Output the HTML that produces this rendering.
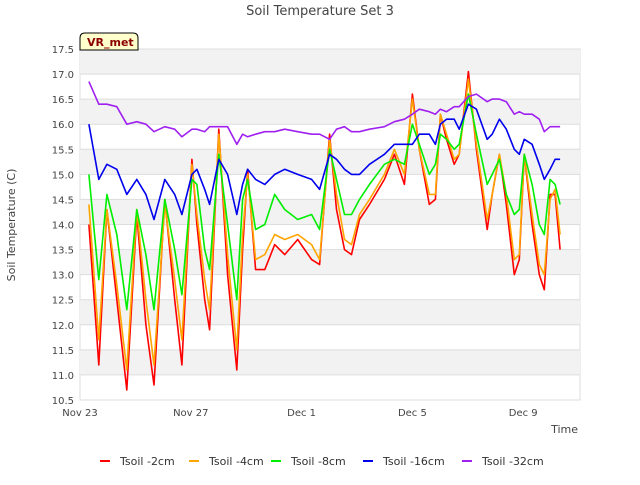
<!DOCTYPE html>
<html><head><meta charset="utf-8"><style>
body{margin:0;background:#fff;font-family:"Liberation Sans",sans-serif}
svg text{font-family:"DejaVu Sans","Liberation Sans",sans-serif}
</style></head><body>
<svg id="chart" width="640" height="480">
<rect width="640" height="480" fill="#fff"/>
<g id="bands"></g><g id="grid"></g>
<text x="320" y="15" text-anchor="middle" font-size="13" fill="#444">Soil Temperature Set 3</text>
<text x="15" y="225" text-anchor="middle" font-size="11" fill="#444" transform="rotate(-90 15 225)">Soil Temperature (C)</text>
<text x="578" y="433" text-anchor="end" font-size="11" fill="#444">Time</text>
<g id="yticks"></g><g id="xticks"></g><g id="series"></g>
<g>
<path d="M80,50 L80,38 Q80,33 85,33 L133,33 Q138,33 138,38 L138,50 Z" fill="#ffffcc" stroke="#000" stroke-width="1"/>
<text x="87" y="46" font-size="11" font-weight="bold" fill="#8b0000">VR_met</text></g>
<g id="legend"></g>
</svg>
<script>
const days=[0.32,0.68,0.97,1.33,1.69,2.05,2.38,2.67,3.06,3.42,3.68,4.04,4.22,4.50,4.68,5.01,5.33,5.66,5.87,6.05,6.34,6.67,7.03,7.39,7.86,8.36,8.65,9.01,9.26,9.55,9.80,10.09,10.45,10.99,11.35,11.71,12.00,12.25,12.61,12.83,13.01,13.23,13.51,13.69,14.02,14.31,14.70,14.88,15.14,15.39,15.68,15.86,16.04,16.32,16.58,16.76,16.97,17.15,17.33];
const tsoil2=[14.0,11.2,14.3,12.5,10.7,14.2,12.0,10.8,14.5,12.5,11.2,15.3,14.0,12.5,11.9,15.9,13.0,11.1,13.5,15.1,13.1,13.1,13.6,13.4,13.7,13.3,13.2,15.8,14.3,13.5,13.4,14.1,14.4,14.9,15.4,14.8,16.6,15.5,14.4,14.5,16.2,15.7,15.2,15.4,17.05,15.5,13.9,14.6,15.4,14.4,13.0,13.3,15.4,14.0,13.0,12.7,14.6,14.6,13.5];
const tsoil4=[14.4,11.7,14.3,12.8,11.1,14.3,12.5,11.2,14.4,12.9,11.7,15.2,14.2,12.9,12.3,15.8,13.4,11.5,13.8,15.0,13.3,13.4,13.8,13.7,13.8,13.6,13.3,15.7,14.6,13.7,13.6,14.2,14.5,15.0,15.5,15.0,16.5,15.5,14.6,14.6,16.2,15.8,15.3,15.4,16.9,15.6,14.1,14.6,15.4,14.6,13.3,13.4,15.4,14.2,13.2,13.0,14.5,14.7,13.8];
const tsoil8=[15.0,12.9,14.6,13.8,12.3,14.3,13.4,12.3,14.5,13.5,12.6,14.9,14.8,13.5,13.1,15.4,14.0,12.5,14.5,14.9,13.9,14.0,14.6,14.3,14.1,14.2,13.9,15.5,14.9,14.2,14.2,14.5,14.8,15.2,15.3,15.2,16.0,15.6,15.0,15.2,15.8,15.7,15.5,15.6,16.6,15.8,14.8,15.0,15.3,14.6,14.2,14.3,15.4,14.8,14.0,13.8,14.9,14.8,14.4];
const tsoil16=[16.0,14.9,15.2,15.1,14.6,14.9,14.6,14.1,14.9,14.6,14.2,15.0,15.1,14.7,14.4,15.3,15.0,14.2,14.8,15.1,14.9,14.8,15.0,15.1,15.0,14.9,14.7,15.4,15.3,15.1,15.0,15.0,15.2,15.4,15.6,15.6,15.6,15.8,15.8,15.6,16.0,16.1,16.1,15.9,16.4,16.3,15.7,15.8,16.1,15.9,15.5,15.4,15.7,15.6,15.2,14.9,15.1,15.3,15.3];
const tsoil32=[16.85,16.4,16.4,16.35,16.0,16.05,16.0,15.85,15.95,15.9,15.75,15.9,15.9,15.85,15.95,15.95,15.95,15.6,15.8,15.75,15.8,15.85,15.85,15.9,15.85,15.8,15.8,15.7,15.9,15.95,15.85,15.85,15.9,15.95,16.05,16.1,16.2,16.3,16.25,16.2,16.3,16.25,16.35,16.35,16.55,16.6,16.45,16.5,16.5,16.45,16.2,16.25,16.2,16.2,16.1,15.85,15.95,15.95,15.95];
const yTicks=[10.5,11.0,11.5,12.0,12.5,13.0,13.5,14.0,14.5,15.0,15.5,16.0,16.5,17.0,17.5];
const xTickDays=[0,4,8,12,16];
const xTickLabels=["Nov 23","Nov 27","Dec 1","Dec 5","Dec 9"];
const seriesNames=["Tsoil -2cm","Tsoil -4cm","Tsoil -8cm","Tsoil -16cm","Tsoil -32cm"];
const seriesColors=["#ff0000","#ffa500","#00ee00","#0000ee","#a020f0"];
const seriesData=[tsoil2,tsoil4,tsoil8,tsoil16,tsoil32];
const L=80,R=580,T=49,B=400,ymin=10.5,ymax=17.5,dmax=18.05;
const X=d=>L+d/dmax*(R-L), Y=v=>B-(v-ymin)/(ymax-ymin)*(B-T);
const NS="http://www.w3.org/2000/svg";
function mk(t,a,p){const e=document.createElementNS(NS,t);for(const k in a)e.setAttribute(k,a[k]);p.appendChild(e);return e;}
const bands=document.getElementById('bands'),grid=document.getElementById('grid'),yt=document.getElementById('yticks'),xt=document.getElementById('xticks');
mk('rect',{x:L,y:T,width:R-L,height:B-T,fill:'#fff',stroke:'#ddd'},bands);
for(let i=0;i<yTicks.length-1;i++){if((yTicks.length-2-i)%2===0){const r=mk('rect',{x:L,y:Y(yTicks[i+1]),width:R-L,height:Y(yTicks[i])-Y(yTicks[i+1]),fill:'#f2f2f2'},bands);}}
yTicks.forEach(v=>{const l=mk('line',{x1:L,x2:R,y1:Y(v),y2:Y(v),stroke:'#ddd'},grid);

const t=mk('text',{x:L-6,y:Y(v)+4,'text-anchor':'end','font-size':10,fill:'#444'},yt);t.textContent=v.toFixed(1);
});
xTickDays.forEach((d,i)=>{const t=mk('text',{x:X(d),y:B+16,'text-anchor':'middle','font-size':10,fill:'#444'},xt);t.textContent=xTickLabels[i];
});
const sg=document.getElementById('series');
seriesData.forEach((s,k)=>{const p=mk('polyline',{points:s.map((v,i)=>X(days[i]).toFixed(1)+','+Y(v).toFixed(1)).join(' '),fill:'none',stroke:seriesColors[k],'stroke-width':1.6,'stroke-linejoin':'round'},sg);
});
const lg=document.getElementById('legend');const lx=[100,189,271,363,462];
seriesNames.forEach((n,k)=>{const g=mk('g',{},lg);
mk('line',{x1:lx[k],x2:lx[k]+10,y1:461,y2:461,stroke:seriesColors[k],'stroke-width':2},g);
const t=mk('text',{x:lx[k]+20,y:465,'font-size':11,fill:'#333'},g);t.textContent=n;});
</script>
</body></html>
